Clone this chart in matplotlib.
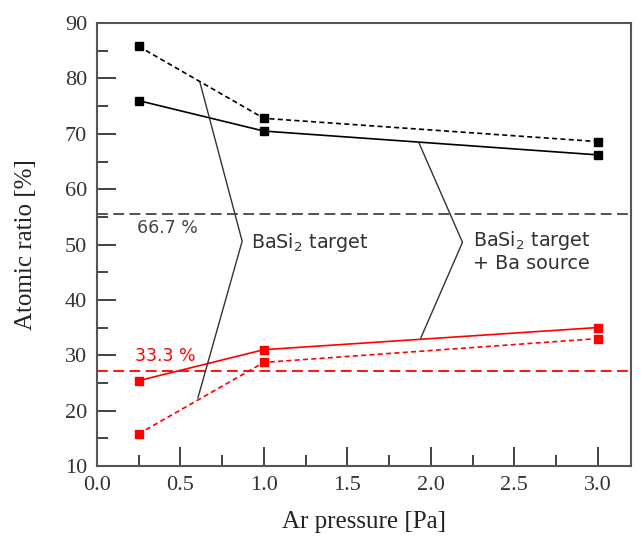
import numpy as np
import matplotlib
matplotlib.use("Agg")
from matplotlib import pyplot as plt
from matplotlib.ticker import MultipleLocator

# data
pressure = [0.25, 1.0, 3.0]
ba_target_dash = [85.8, 72.8, 68.6]      # BaSi2 target (black, dashed)
ba_source_solid = [76.0, 70.5, 66.2]     # BaSi2 target + Ba source (black, solid)
si_source_solid = [25.4, 31.0, 35.0]     # red, solid
si_target_dash = [15.8, 28.7, 33.0]      # red, dashed
ref_black = 55.6
ref_red = 27.1

fig = plt.figure(figsize=(6.42, 5.38), dpi=100)
ax = fig.add_axes([0.151, 0.134, 0.832, 0.823])

ax.plot(pressure, ba_target_dash, color="black", ls=(0, (3, 2)), lw=1.2,
        marker="s", ms=6)
ax.plot(pressure, ba_source_solid, color="black", ls="-", lw=1.2,
        marker="s", ms=6)
ax.plot(pressure, si_source_solid, color="#ff0000", ls="-", lw=1.2,
        marker="s", ms=6)
ax.plot(pressure, si_target_dash, color="#ff0000", ls=(0, (3, 2)), lw=1.2,
        marker="s", ms=6)

ax.axhline(ref_black, color="#444444", ls=(0, (6, 3)), lw=1.3)
ax.axhline(ref_red, color="#ff0000", ls=(0, (6, 3)), lw=1.3)

ax.text(0.24, 53.0, "66.7 %", color="#444444", fontsize=12.5,
        family="DejaVu Sans", ha="left", va="center")
ax.text(0.23, 29.8, "33.3 %", color="#ff0000", fontsize=12.5,
        family="DejaVu Sans", ha="left", va="center")

# bracket lines
ax.plot([0.617, 0.87, 0.605], [79.3, 50.6, 22.3], color="#333333", lw=1.0)
ax.plot([1.93, 2.19, 1.94], [68.3, 50.4, 33.1], color="#333333", lw=1.0)

ax.text(0.92, 50.4, "BaSi$_2$ target", color="#333333", fontsize=13.8,
        family="DejaVu Sans", ha="left", va="center")
ax.text(2.25, 48.8, "BaSi$_2$ target\n+ Ba source", color="#333333",
        fontsize=13.8, family="DejaVu Sans", ha="left", va="center",
        linespacing=1.1)

ax.set_xlim(0, 3.2)
ax.set_ylim(10, 90)
ax.xaxis.set_major_locator(MultipleLocator(0.5))
ax.xaxis.set_minor_locator(MultipleLocator(0.25))
ax.yaxis.set_major_locator(MultipleLocator(10))
ax.yaxis.set_minor_locator(MultipleLocator(5))
ax.tick_params(which="major", direction="in", length=14, width=1.2,
               color="#222222", labelsize=16, pad=7)
ax.tick_params(which="minor", direction="in", length=8, width=1.2,
               color="#222222")
ax.set_xticks(np.arange(0, 3.01, 0.5))
ax.set_xticklabels(["%.1f" % v for v in np.arange(0, 3.01, 0.5)])
for lab in ax.get_xticklabels() + ax.get_yticklabels():
    lab.set_family("Liberation Serif")
    lab.set_color("#333333")

for sp in ax.spines.values():
    sp.set_color("#555555")
    sp.set_linewidth(1.5)

ax.set_xlabel("Ar pressure [Pa]", family="Liberation Serif", fontsize=18,
              labelpad=12, color="#222222")
ax.set_ylabel("Atomic ratio [%]", family="Liberation Serif", fontsize=18,
              labelpad=20, color="#222222")

fig.savefig("out.png", dpi=100)
